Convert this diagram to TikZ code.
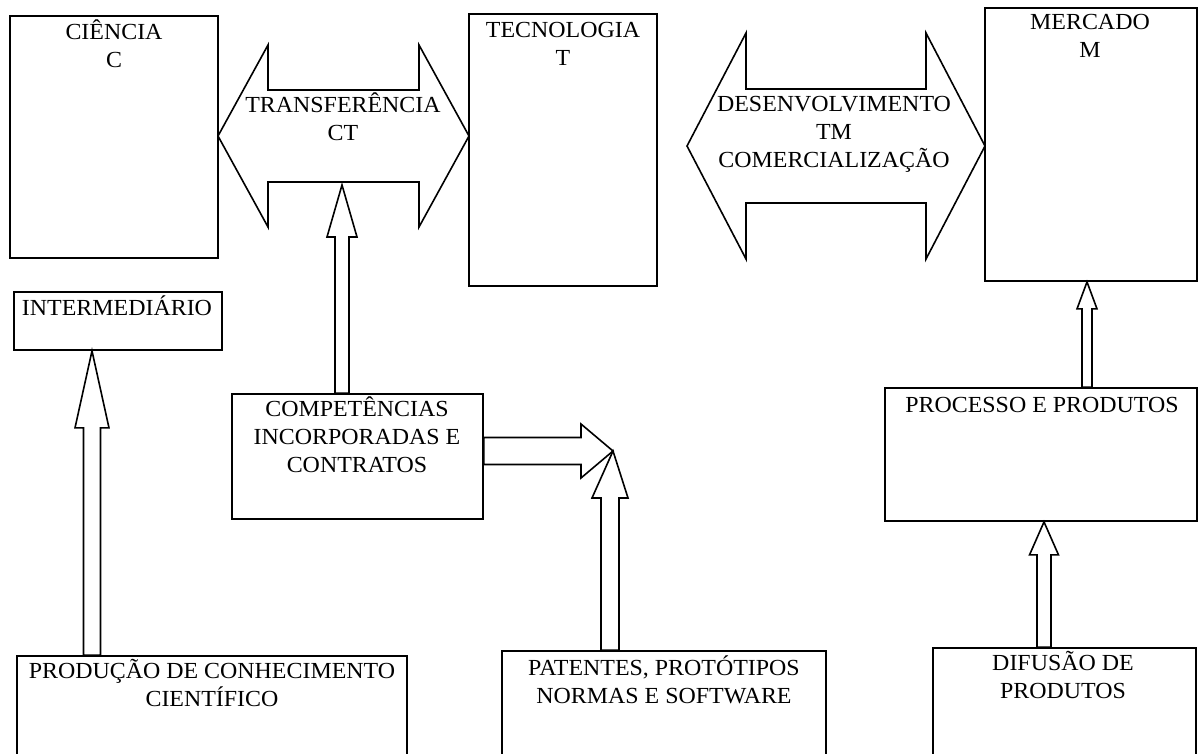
\documentclass[tikz,border=0pt]{standalone}
\usepackage{fontspec}
\setmainfont{Liberation Serif}[FakeStretch=1.04]
\usetikzlibrary{calc}

% vertical block arrow: #1 base, #2 tip, #3 shaft half width, #4 head half width, #5 head length
\newcommand\blockup[5]{%
  \draw[blk] let \p1=(#1), \p2=(#2) in
    (\x1-#3pt,\y1) -- (\x1-#3pt,\y2-#5pt) -- (\x1-#4pt,\y2-#5pt) -- (\x2,\y2)
    -- (\x1+#4pt,\y2-#5pt) -- (\x1+#3pt,\y2-#5pt) -- (\x1+#3pt,\y1) -- cycle;}
% horizontal block arrow pointing right
\newcommand\blockright[5]{%
  \draw[blk] let \p1=(#1), \p2=(#2) in
    (\x1,\y1+#3pt) -- (\x2-#5pt,\y1+#3pt) -- (\x2-#5pt,\y1+#4pt) -- (\x2,\y2)
    -- (\x2-#5pt,\y1-#4pt) -- (\x2-#5pt,\y1-#3pt) -- (\x1,\y1-#3pt) -- cycle;}
% two-headed horizontal block arrow: #1 left tip, #2 right tip, #3 head length, #4 shaft half, #5 head half
\newcommand\blockdouble[5]{%
  \draw[blk] let \p1=(#1), \p2=(#2) in
    (\x1,\y1) -- (\x1+#3pt,\y1+#5pt) -- (\x1+#3pt,\y1+#4pt) -- (\x2-#3pt,\y1+#4pt)
    -- (\x2-#3pt,\y1+#5pt) -- (\x2,\y2) -- (\x2-#3pt,\y1-#5pt) -- (\x2-#3pt,\y1-#4pt)
    -- (\x1+#3pt,\y1-#4pt) -- (\x1+#3pt,\y1-#5pt) -- cycle;}

\begin{document}
\begin{tikzpicture}[x=1pt,y=-1pt,
  box/.style={draw=black, line width=1.8pt, fill=white, inner sep=0pt, rectangle},
  blk/.style={draw=black, line width=1.6pt, fill=white, line join=miter},
  % labels are placed by the baseline of their last line
  lbl/.style={inner sep=0pt, align=center, anchor=base, text=black,
    font=\fontsize{23}{28}\selectfont}]
\useasboundingbox (0,0) rectangle (1201,753);
\clip (0,0) rectangle (1201,753);
\fill[white] (0,0) rectangle (1201,753);

% main chain
\node[box, minimum width=208, minimum height=242] (cien) at (114,137) {};
\node[box, minimum width=188, minimum height=272] (tec) at (563,150) {};
\node[box, minimum width=212, minimum height=273] (merc) at (1091,144.5) {};

% secondary boxes
\node[box, minimum width=208, minimum height=58] (inter) at (118,321) {};
\node[box, minimum width=251, minimum height=125] (comp) at (357.5,456.5) {};
\node[box, minimum width=312, minimum height=133] (proc) at (1041,454.5) {};
\node[box, minimum width=390, minimum height=144] (prod) at (212,728) {};
\node[box, minimum width=324, minimum height=149] (pat) at (664,725.5) {};
\node[box, minimum width=263, minimum height=152] (dif) at (1064.5,724) {};

% two-headed transfer arrows
\coordinate (ctl) at (218,136);
\coordinate (ctr) at (469,136);
\blockdouble{ctl}{ctr}{50}{46}{91}
\coordinate (tml) at (687,146);
\coordinate (tmr) at (985,146);
\blockdouble{tml}{tmr}{59}{57}{113}

% single block arrows
\blockup{92,0 |- prod.north}{92,0 |- inter.south}{8.5}{17}{77}
\coordinate (ctlow) at (342,185);
\blockup{342,0 |- comp.north}{ctlow}{7}{15}{52}
\coordinate (meet) at (613,451);
\blockright{comp.east |- meet}{meet}{13.5}{27}{32}
\blockup{610,0 |- pat.north}{meet}{9}{18}{47}
\blockup{1087,0 |- proc.north}{1087,0 |- merc.south}{5}{10}{27}
\blockup{1044,0 |- dif.north}{1044,0 |- proc.south}{7}{14.5}{33}

% labels
\node[lbl] (cient) at (114,67) {CIÊNCIA\\C};
\node[lbl] (tect) at (563,65) {TECNOLOGIA\\T};
\node[lbl] (merct) at (1090,57) {MERCADO\\M};
\node[lbl] (ctt) at (343,140) {TRANSFERÊNCIA\\CT};
\node[lbl] (tmt) at (834,167) {DESENVOLVIMENTO\\TM\\COMERCIALIZAÇÃO};
\node[lbl] (intert) at (117,315) {INTERMEDIÁRIO};
\node[lbl] (compt) at (357,472) {COMPETÊNCIAS\\INCORPORADAS E\\CONTRATOS};
\node[lbl] (proct) at (1042,412) {PROCESSO E PRODUTOS};
\node[lbl] (prodt) at (212,706) {PRODUÇÃO DE CONHECIMENTO\\CIENTÍFICO};
\node[lbl] (patt) at (664,703) {PATENTES, PROTÓTIPOS\\NORMAS E SOFTWARE};
\node[lbl] (dift) at (1063,698) {DIFUSÃO DE\\PRODUTOS};
\end{tikzpicture}
\end{document}
